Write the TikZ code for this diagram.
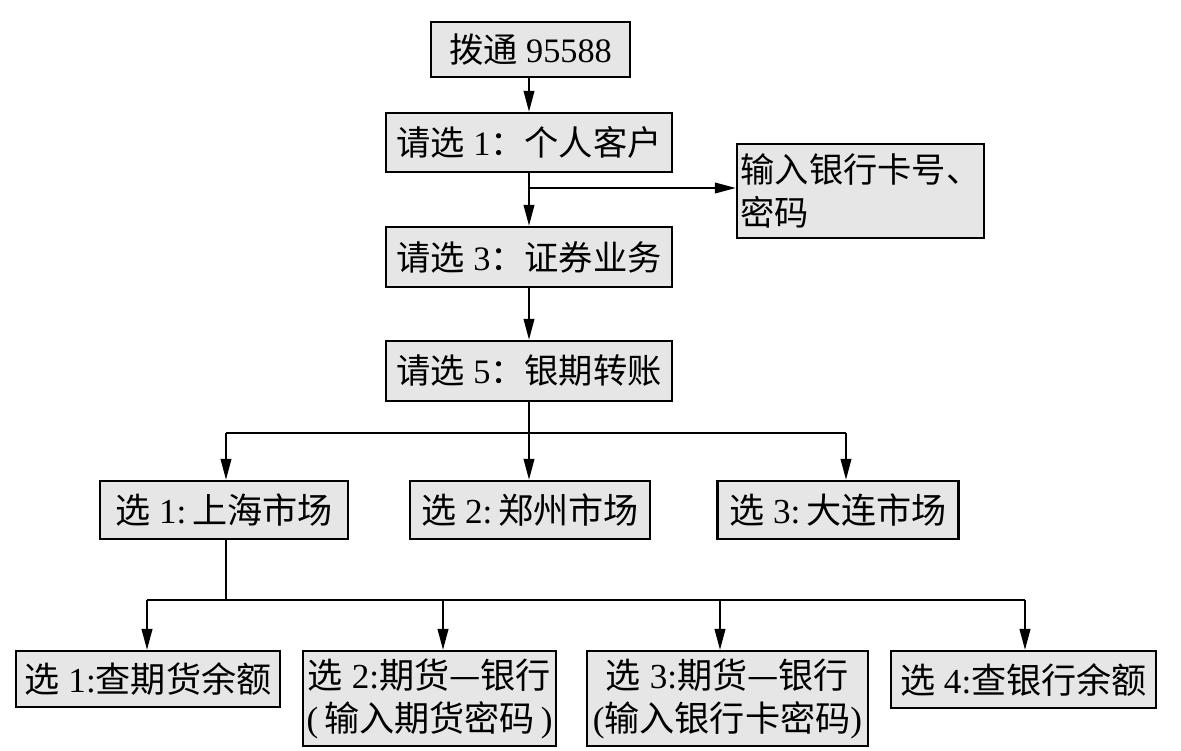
\documentclass[tikz,border=0pt]{standalone}
\usepackage{fontspec}
\setmainfont{Liberation Serif}
\newfontfamily\cj{Noto Sans CJK SC}
\usetikzlibrary{arrows.meta}
\definecolor{boxgray}{HTML}{E6E6E6}
\begin{document}
\begin{tikzpicture}[x=0.02cm,y=-0.02cm,
  box/.style={draw=black,line width=1.3pt,fill=boxgray,inner sep=0pt,align=center,
    font=\fontsize{19.5}{24.5}\selectfont},
  lowbox/.style={box,font=\fontsize{20}{24.5}\selectfont},
  arr/.style={line width=1.3pt,-{Triangle[length=12pt,width=6pt]}},
  ln/.style={line width=1.3pt}]
\useasboundingbox (0,0) rectangle (1181,751);
% main column
\node[box,minimum width=3.98cm,minimum height=1.10cm] (n1) at (530.5,49.5) {{\cj 拨通} 95588};
\node[box,minimum width=5.72cm,minimum height=1.18cm] (n2) at (529,142.5) {{\cj 请选} 1{\cj ：个人客户}};
\node[box,minimum width=4.94cm,minimum height=1.88cm,align=left] (side) at (860.5,191) {{\cj 输入银行卡号、}\\{\cj 密码}\hphantom{\cj 银行卡号、}};
\node[box,minimum width=5.72cm,minimum height=1.20cm] (n3) at (529,257) {{\cj 请选} 3{\cj ：证券业务}};
\node[box,minimum width=5.72cm,minimum height=1.20cm] (n4) at (529,371) {{\cj 请选} 5{\cj ：银期转账}};
% markets
\node[lowbox,minimum width=4.96cm,minimum height=1.16cm] (mA) at (224,510) {{\cj 选} 1:\,{\cj 上海市场}};
\node[lowbox,minimum width=4.80cm,minimum height=1.16cm] (mB) at (530,510) {{\cj 选} 2:\,{\cj 郑州市场}};
\node[lowbox,minimum width=4.82cm,minimum height=1.16cm] (mC) at (838,510) {{\cj 选} 3:\,{\cj 大连市场}};
% bottom row
\node[lowbox,minimum width=5.28cm,minimum height=1.12cm,anchor=north] (D) at (148,650) {{\cj 选} 1:{\cj 查期货余额}};
\node[lowbox,minimum width=5.06cm,minimum height=1.90cm,anchor=north] (E) at (429.5,650) {{\cj 选} 2:{\cj 期货—银行}\\(\,{\cj 输入期货密码}\,)};
\node[lowbox,minimum width=5.62cm,minimum height=1.90cm,anchor=north] (F) at (727.5,650) {{\cj 选} 3:{\cj 期货—银行}\\({\cj 输入银行卡密码})};
\node[lowbox,minimum width=5.30cm,minimum height=1.14cm,anchor=north] (G) at (1023.5,650) {{\cj 选} 4:{\cj 查银行余额}};
% connectors
\draw[arr] (n1.south -| 529,0) -- (n2.north -| 529,0);
\coordinate (s1) at (529,188);
\draw[arr] (n2.south) -- (n3.north);
\draw[arr] (s1) -- (side.west |- s1);
\draw[arr] (n3.south) -- (n4.north);
\coordinate (b1) at (529,433);
\coordinate (bA) at (226,433);
\coordinate (bC) at (846,433);
\draw[ln] (n4.south) -- (b1);
\draw[ln] (bA) -- (bC);
\draw[arr] (bA) -- (bA |- mA.north);
\draw[arr] (b1) -- (b1 |- mB.north);
\draw[arr] (bC) -- (bC |- mC.north);
\coordinate (a2) at (226,600);
\coordinate (cD) at (147,600);
\coordinate (cE) at (443,600);
\coordinate (cF) at (720,600);
\coordinate (cG) at (1025,600);
\draw[ln] (mA.south -| a2) -- (a2);
\draw[ln] (cD) -- (cG);
\draw[arr] (cD) -- (cD |- D.north);
\draw[arr] (cE) -- (cE |- E.north);
\draw[arr] (cF) -- (cF |- F.north);
\draw[arr] (cG) -- (cG |- G.north);
\end{tikzpicture}
\end{document}
